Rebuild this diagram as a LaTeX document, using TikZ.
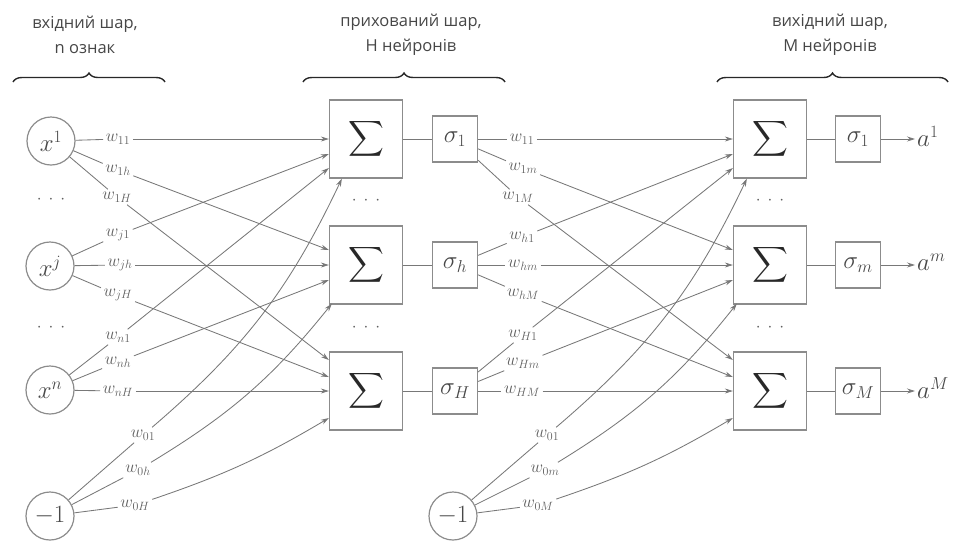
\documentclass[tikz,border=0pt]{standalone}
\usepackage{amsmath}
\usepackage{fontspec}
\newfontfamily\uafont{Open Sans}
\usetikzlibrary{arrows.meta,decorations.pathreplacing}
\definecolor{edgegray}{RGB}{120,120,120}
\definecolor{boxgray}{RGB}{140,140,140}
\definecolor{labgray}{RGB}{95,95,95}
\definecolor{inkdark}{RGB}{40,40,40}
\definecolor{headgray}{RGB}{70,70,70}
\newcommand{\spreaddots}{${\cdot}\hspace{7pt}{\cdot}\hspace{7pt}{\cdot}$}
\begin{document}
\begin{tikzpicture}[x=1pt,y=1pt,
  neuron/.style={circle, draw=boxgray, line width=1.2pt, minimum size=48pt, inner sep=0pt,
    text=inkdark!85, font=\fontsize{27}{30}\selectfont},
  sumbox/.style={draw=boxgray, line width=1.3pt, minimum width=73pt, minimum height=78pt,
    inner sep=0pt, text=inkdark, font=\fontsize{31}{34}\selectfont},
  actbox/.style={draw=boxgray, line width=1.3pt, minimum width=45pt, minimum height=46pt,
    inner sep=5pt, text=inkdark!85, font=\fontsize{26}{30}\selectfont},
  wlab/.style={inner sep=2.5pt, text=labgray, font=\fontsize{17.5}{20}\selectfont},
  dotlab/.style={inner sep=0pt, text=labgray, font=\fontsize{16}{20}\selectfont},
  outlab/.style={anchor=west, inner sep=2pt, text=inkdark!85, font=\fontsize{27}{30}\selectfont},
  link/.style={draw=edgegray, line width=0.85pt},
  feed/.style={link, -{Stealth[length=8pt,width=5pt]}},
  head/.style={align=center, text=headgray, font=\uafont\fontsize{16.5}{25}\selectfont},
  bracket/.style={draw=inkdark, line width=1.4pt, decorate, decoration={brace, amplitude=9pt}}
]
\useasboundingbox (0,0) rectangle (968,-542);

% ---------- layer headings ----------
\node[head] (hin)  at (85,-35)  {вхідний шар,\\n ознак};
\node[head] (hhid) at (411,-35) {прихований шар,\\H нейронів};
\node[head] (hout) at (830,-35) {вихідний шар,\\M нейронів};
\draw[bracket] (13,-82) -- (165,-82);
\draw[bracket] (303,-82) -- (505,-82);
\draw[bracket] (717,-82) -- (948,-82);

% ---------- inputs ----------
\node[neuron] (x1) at (51,-141) {$x^1$};
\node[neuron] (xj) at (50,-266) {$x^j$};
\node[neuron] (xn) at (50,-390) {$x^n$};
\node[neuron] (b1) at (50,-516) {$-1$};
\node[dotlab] (d1) at (51,-200) {\spreaddots};
\node[dotlab] (d2) at (51,-328) {\spreaddots};

% ---------- hidden layer ----------
\node[sumbox] (s1) at (366,-139) {$\displaystyle\sum$};
\node[sumbox] (s2) at (366,-265) {$\displaystyle\sum$};
\node[sumbox] (s3) at (366,-391) {$\displaystyle\sum$};
\node[dotlab] (d3) at (366,-201) {\spreaddots};
\node[dotlab] (d4) at (366,-328) {\spreaddots};
\node[actbox] (g1) at (455,-139) {$\sigma_1$};
\node[actbox] (gh) at (455,-265) {$\sigma_h$};
\node[actbox] (gH) at (455,-391) {$\sigma_H$};
\node[neuron] (b2) at (453,-516) {$-1$};

% ---------- output layer ----------
\node[sumbox] (t1) at (770,-139) {$\displaystyle\sum$};
\node[sumbox] (tm) at (770,-265) {$\displaystyle\sum$};
\node[sumbox] (tM) at (770,-391) {$\displaystyle\sum$};
\node[dotlab] (d5) at (770,-201) {\spreaddots};
\node[dotlab] (d6) at (770,-328) {\spreaddots};
\node[actbox] (h1) at (858,-139) {$\sigma_1$};
\node[actbox] (hm) at (858,-265) {$\sigma_m$};
\node[actbox] (hM) at (858,-391) {$\sigma_M$};
\node[outlab] (a1) at (915,-136) {$a^1$};
\node[outlab] (am) at (915,-262) {$a^m$};
\node[outlab] (aM) at (915,-388) {$a^M$};

% ---------- weights into the hidden layer ----------
\node[wlab] (w11) at (118,-139) {$w_{11}$};
\node[wlab] (w1h) at (118,-170) {$w_{1h}$};
\node[wlab] (w1H) at (117,-197) {$w_{1H}$};
\node[wlab] (wj1) at (118,-235) {$w_{j1}$};
\node[wlab] (wjh) at (120,-265) {$w_{jh}$};
\node[wlab] (wjH) at (118,-295) {$w_{jH}$};
\node[wlab] (wn1) at (118,-337) {$w_{n1}$};
\node[wlab] (wnh) at (118,-362) {$w_{nh}$};
\node[wlab] (wnH) at (118,-391) {$w_{nH}$};
\node[wlab] (w01) at (143,-435) {$w_{01}$};
\node[wlab] (w0h) at (138,-470) {$w_{0h}$};
\node[wlab] (w0H) at (135,-505) {$w_{0H}$};

\draw[link] (x1) -- (w11); \draw[feed] (w11) -- (s1.west);
\draw[link] (x1) -- (w1h); \draw[feed] (w1h) -- ([yshift=15pt]s2.west);
\draw[link] (x1) -- (w1H); \draw[feed] (w1H) -- ([yshift=31pt]s3.west);
\draw[link] (xj) -- (wj1); \draw[feed] (wj1) -- ([yshift=-15pt]s1.west);
\draw[link] (xj) -- (wjh); \draw[feed] (wjh) -- (s2.west);
\draw[link] (xj) -- (wjH); \draw[feed] (wjH) -- ([yshift=14pt]s3.west);
\draw[link] (xn) -- (wn1); \draw[feed] (wn1) -- ([yshift=-29pt]s1.west);
\draw[link] (xn) -- (wnh); \draw[feed] (wnh) -- ([yshift=-15pt]s2.west);
\draw[link] (xn) -- (wnH); \draw[feed] (wnH) -- (s3.west);
\draw[link] (b1) -- (w01); \draw[feed] (w01) to[bend right=12] ([xshift=13pt]s1.south west);
\draw[link] (b1) -- (w0h); \draw[feed] (w0h) to[bend right=10] ([xshift=3pt,yshift=1pt]s2.south west);
\draw[link] (b1) -- (w0H); \draw[feed] (w0H) to[bend right=6] ([yshift=-27pt]s3.west);

% ---------- sums into activations ----------
\draw[link] (s1.east) -- (s1.east -| g1.west);
\draw[link] (s2.east) -- (s2.east -| gh.west);
\draw[link] (s3.east) -- (s3.east -| gH.west);

% ---------- weights into the output layer ----------
\node[wlab] (v11) at (522,-139) {$w_{11}$};
\node[wlab] (v1m) at (523,-168) {$w_{1m}$};
\node[wlab] (v1M) at (518,-197) {$w_{1M}$};
\node[wlab] (vh1) at (522,-237) {$w_{h1}$};
\node[wlab] (vhm) at (523,-265) {$w_{hm}$};
\node[wlab] (vhM) at (523,-294) {$w_{hM}$};
\node[wlab] (vH1) at (523,-335) {$w_{H1}$};
\node[wlab] (vHm) at (523,-363) {$w_{Hm}$};
\node[wlab] (vHM) at (522,-391) {$w_{HM}$};
\node[wlab] (v01) at (547,-435) {$w_{01}$};
\node[wlab] (v0m) at (545,-470) {$w_{0m}$};
\node[wlab] (v0M) at (538,-505) {$w_{0M}$};

\draw[link] (g1) -- (v11); \draw[feed] (v11) -- (t1.west);
\draw[link] (g1) -- (v1m); \draw[feed] (v1m) -- ([yshift=15pt]tm.west);
\draw[link] (g1) -- (v1M); \draw[feed] (v1M) -- ([yshift=31pt]tM.west);
\draw[link] (gh) -- (vh1); \draw[feed] (vh1) -- ([yshift=-15pt]t1.west);
\draw[link] (gh) -- (vhm); \draw[feed] (vhm) -- (tm.west);
\draw[link] (gh) -- (vhM); \draw[feed] (vhM) -- ([yshift=14pt]tM.west);
\draw[link] (gH) -- (vH1); \draw[feed] (vH1) -- ([yshift=-29pt]t1.west);
\draw[link] (gH) -- (vHm); \draw[feed] (vHm) -- ([yshift=-15pt]tm.west);
\draw[link] (gH) -- (vHM); \draw[feed] (vHM) -- (tM.west);
\draw[link] (b2) -- (v01); \draw[feed] (v01) to[bend right=12] ([xshift=14pt]t1.south west);
\draw[link] (b2) -- (v0m); \draw[feed] (v0m) to[bend right=10] ([xshift=4pt,yshift=1pt]tm.south west);
\draw[link] (b2) -- (v0M); \draw[feed] (v0M) to[bend right=6] ([yshift=-27pt]tM.west);

% ---------- output activations ----------
\draw[link] (t1.east) -- (t1.east -| h1.west);
\draw[link] (tm.east) -- (tm.east -| hm.west);
\draw[link] (tM.east) -- (tM.east -| hM.west);
\draw[feed] (h1.east) -- (h1.east -| a1.west);
\draw[feed] (hm.east) -- (hm.east -| am.west);
\draw[feed] (hM.east) -- (hM.east -| aM.west);
\end{tikzpicture}
\end{document}
